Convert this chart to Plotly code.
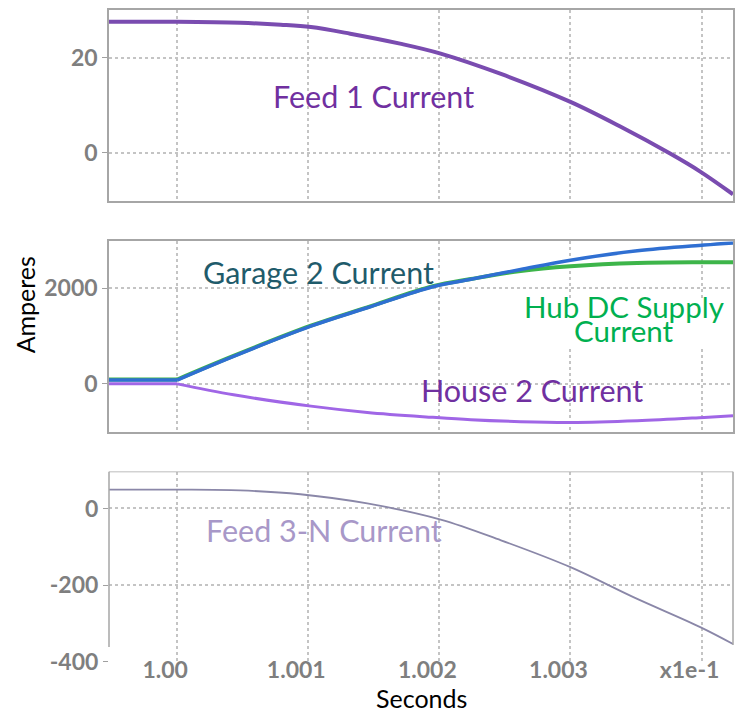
import plotly.graph_objs as go
from plotly.subplots import make_subplots

# top panel (time in seconds, axis shown as x1e-1)
t_top = [0.99948, 1.0, 1.00048, 1.00079, 1.00102, 1.00132, 1.00170, 1.00201,
         1.00247, 1.00300, 1.00338, 1.00376, 1.00399, 1.00424]
feed1 = [27.6, 27.6, 27.4, 27.0, 26.5, 25.1, 23.0, 20.9, 16.6, 10.7, 5.5, -0.2, -4.0, -8.8]

# middle panel
t_mid = [0.99948, 1.0, 1.00043, 1.00102, 1.00145, 1.00195, 1.00224, 1.00262,
         1.00300, 1.00351, 1.00402, 1.00424]
garage2 = [80, 80, 575, 1205, 1590, 2030, 2185, 2390, 2585, 2780, 2900, 2944]
hub_dc = [92, 92, 585, 1215, 1600, 2040, 2190, 2360, 2458, 2527, 2541, 2541]
house2 = [0, 0, -229, -465, -597, -700, -750, -790, -806, -771, -701, -667]

# bottom panel
t_bot = [0.99948, 1.0, 1.00048, 1.00094, 1.00145, 1.00201, 1.00247, 1.00300,
         1.00348, 1.00399, 1.00424]
feed3n = [49, 49, 47, 37, 13, -29, -83, -153, -231, -309, -353]

xtick_vals = [1.000, 1.001, 1.002, 1.003, 1.004]
xtick_text = ["1.00", "1.001", "1.002", "1.003", "x1e-1"]

fig = make_subplots(rows=3, cols=1, shared_xaxes=True)

fig.add_trace(go.Scatter(x=t_top, y=feed1, mode="lines", line_shape="spline",
                         line=dict(color="#7A4CB0", width=4), name="Feed 1 Current"), row=1, col=1)

# middle series: flat part before the step, then a smooth rise/fall after it
mid = [(house2, "#A066E6", 3, "House 2 Current"),
       (hub_dc, "#3DB54A", 4, "Hub DC Supply Current"),
       (garage2, "#2F6FD2", 3.5, "Garage 2 Current")]
for vals, col, w, nm in mid:
    fig.add_trace(go.Scatter(x=t_mid[:2], y=vals[:2], mode="lines",
                             line=dict(color=col, width=w), name=nm), row=2, col=1)
    fig.add_trace(go.Scatter(x=t_mid[1:], y=vals[1:], mode="lines", line_shape="spline",
                             line=dict(color=col, width=w), name=nm), row=2, col=1)

fig.add_trace(go.Scatter(x=t_bot, y=feed3n, mode="lines", line_shape="spline",
                         line=dict(color="#8A87A8", width=1.8), name="Feed 3-N Current"), row=3, col=1)

tickfont = dict(family="Lato", size=23, color="#7F7F7F", weight="bold")
grid = dict(showgrid=True, gridcolor="#C4C4C4", griddash="dot", gridwidth=1.5, zeroline=False)

for i in (1, 2, 3):
    fig.update_xaxes(range=[0.99948, 1.00424], tickvals=xtick_vals, ticktext=xtick_text,
                     tickfont=tickfont, ticklabelshift=-12, ticklabelstandoff=-8,
                     row=i, col=1, **grid)
    fig.update_yaxes(tickfont=tickfont, ticks="outside", ticklen=5, tickcolor="#A0A0A0",
                     row=i, col=1, **grid)

# frames
for i in (1, 2):
    fig.update_xaxes(showline=True, mirror=True, linecolor="#A6A6A6", linewidth=1.5, row=i, col=1)
    fig.update_yaxes(showline=True, mirror=True, linecolor="#A6A6A6", linewidth=1.5, row=i, col=1)
fig.update_xaxes(showline=False, row=3, col=1)

fig.update_yaxes(range=[-10.3, 30.1], tickvals=[0, 20], ticktext=["0", "20"],
                 domain=[0.7064, 1.0], row=1, col=1)
fig.update_yaxes(range=[-1000, 2980], tickvals=[0, 2000], ticktext=["0", "2000"],
                 domain=[0.3532, 0.6453], row=2, col=1)
fig.update_yaxes(range=[-400, 96], tickvals=[-400, -200, 0], ticktext=["-400", "-200", "0"],
                 domain=[0.0, 0.2920], row=3, col=1)

# bottom panel frame (open at the bottom)
frame = dict(color="#A6A6A6", width=1.5)
fig.add_shape(type="line", xref="x3 domain", yref="y3", x0=0, x1=0, y0=-361, y1=96, line=frame)
fig.add_shape(type="line", xref="x3 domain", yref="y3", x0=1, x1=1, y0=-356, y1=96, line=frame)
fig.add_shape(type="line", xref="x3 domain", yref="y3", x0=0, x1=1, y0=96, y1=96, line=frame)

# white box behind the Hub DC label
fig.add_shape(type="rect", xref="x2", yref="y2", x0=1.00263, x1=1.00418, y0=750, y1=1771,
              fillcolor="white", line=dict(width=0), layer="above")

# curve labels
lab = dict(family="Lato", size=30.5)
fig.add_annotation(x=1.0015, y=11.9, xref="x", yref="y", text="Feed 1 Current",
                   showarrow=False, font=dict(color="#7030A0", **lab))
fig.add_annotation(x=1.00108, y=2335, xref="x2", yref="y2", text="Garage 2 Current",
                   showarrow=False, font=dict(color="#1F5B6B", **lab))
fig.add_annotation(x=1.00341, y=1625, xref="x2", yref="y2", text="Hub DC Supply",
                   showarrow=False, font=dict(family="Lato", size=29.5, color="#00B050"))
fig.add_annotation(x=1.00341, y=1105, xref="x2", yref="y2", text="Current",
                   showarrow=False, font=dict(family="Lato", size=29.5, color="#00B050"))
fig.add_annotation(x=1.00271, y=-125, xref="x2", yref="y2", text="House 2 Current",
                   showarrow=False, font=dict(color="#7030A0", **lab))
fig.add_annotation(x=1.00112, y=-56, xref="x3", yref="y3", text="Feed 3-N Current",
                   showarrow=False, font=dict(color="#A898C8", **lab))

# axis titles
fig.add_annotation(x=-0.1346, y=0.547, xref="paper", yref="paper", text="Amperes",
                   textangle=-90, showarrow=False, xanchor="center", yanchor="middle",
                   font=dict(family="Lato", size=25, color="black"))
fig.add_annotation(x=0.5016, y=-0.055, xref="paper", yref="paper", text="Seconds",
                   showarrow=False, xanchor="center", yanchor="middle",
                   font=dict(family="Lato", size=25, color="black"))

# page body has an 8px margin, so the figure is sized to fill the window from there
fig.update_layout(width=745, height=702, showlegend=False,
                  margin=dict(l=101, r=20, t=0, b=48),
                  plot_bgcolor="white", paper_bgcolor="white")

fig.write_html("out.html")
